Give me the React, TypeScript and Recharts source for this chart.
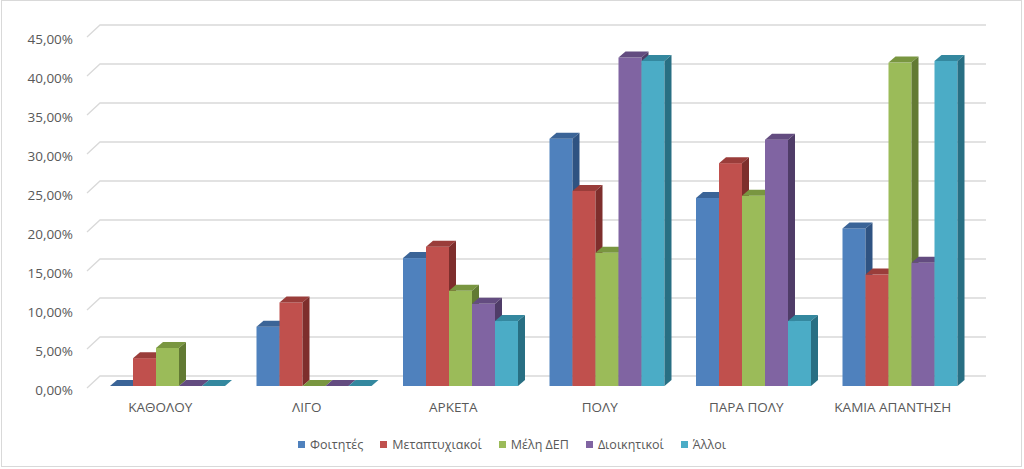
import React from "react";
import { Bar, BarChart, CartesianGrid, Legend, XAxis, YAxis } from "recharts";

const categories = ["ΚΑΘΟΛΟΥ", "ΛΙΓΟ", "ΑΡΚΕΤΑ", "ΠΟΛΥ", "ΠΑΡΑ ΠΟΛΥ", "ΚΑΜΙΑ ΑΠΑΝΤΗΣΗ"];
const students = [0, 7.6, 16.4, 31.7, 24.1, 20.2];
const postgrads = [3.57, 10.71, 17.86, 25.0, 28.57, 14.29];
const faculty = [4.88, 0, 12.2, 17.07, 24.39, 41.46];
const admin = [0, 0, 10.53, 42.11, 31.58, 15.79];
const others = [0, 0, 8.33, 41.67, 8.33, 41.67];
const yTicks = [0, 5, 10, 15, 20, 25, 30, 35, 40, 45];

const series = [
  { key: "students", name: "Φοιτητές", values: students, front: "#4F81BD", top: "#3B6497", side: "#2F5382" },
  { key: "postgrads", name: "Μεταπτυχιακοί", values: postgrads, front: "#C0504D", top: "#9A3D3A", side: "#7E2E2C" },
  { key: "faculty", name: "Μέλη ΔΕΠ", values: faculty, front: "#9BBB59", top: "#799640", side: "#627A33" },
  { key: "admin", name: "Διοικητικοί", values: admin, front: "#8064A2", top: "#634C80", side: "#4F3C68" },
  { key: "others", name: "Άλλοι", values: others, front: "#4BACC6", top: "#34889F", side: "#286F83" },
];

const data = categories.map((cat, i) => {
  const row: Record<string, string | number> = { cat };
  series.forEach((s) => (row[s.key] = s.values[i]));
  return row;
});

const FONT = "'Open Sans', 'Noto Sans', sans-serif";
const TEXT = "#595959";
const GRID = "#D9D9D9";

// depth of the floor/back wall and of each column
const WALL_DX = 13;
const WALL_DY = 12;
const BAR_DX = 6;
const BAR_DY = -2;
const COL_D = 7;
const COL_DY = 6;

function Column(props: any) {
  const { x, y, width, height, front, top, side } = props;
  if (x == null || y == null) return null;
  const x0 = x + BAR_DX;
  const y0 = y + BAR_DY;
  const w = width;
  const h = Math.max(height, 0);
  return (
    <g>
      {h > 0 && <rect x={x0} y={y0} width={w} height={h} fill={front} />}
      <polygon
        points={`${x0},${y0} ${x0 + COL_D},${y0 - COL_DY} ${x0 + w + COL_D},${y0 - COL_DY} ${x0 + w},${y0}`}
        fill={top}
      />
      {h > 0 && (
        <polygon
          points={`${x0 + w},${y0} ${x0 + w + COL_D},${y0 - COL_DY} ${x0 + w + COL_D},${y0 + h - COL_DY} ${x0 + w},${y0 + h}`}
          fill={side}
        />
      )}
    </g>
  );
}

function GridLine(props: any) {
  const { x1, y1, key } = props;
  return (
    <polyline
      key={key}
      points={`${x1},${y1} ${x1 + WALL_DX},${y1 - WALL_DY} 986,${y1 - WALL_DY}`}
      fill="none"
      stroke={GRID}
      strokeWidth={1.3}
    />
  );
}

function LegendRow() {
  return (
    <div
      style={{
        display: "flex",
        justifyContent: "center",
        gap: 17,
        fontFamily: FONT,
        fontSize: 12.5,
        color: TEXT,
      }}
    >
      {series.map((s) => (
        <span key={s.key} style={{ display: "flex", alignItems: "center" }}>
          <span style={{ width: 7, height: 7, background: s.front, marginRight: 5 }} />
          {s.name}
        </span>
      ))}
    </div>
  );
}

const fmt = (v: number) => v.toFixed(2).replace(".", ",") + "%";

export default function App() {
  return (
    <div style={{ position: "absolute", left: 0, top: 0, width: 1024, height: 469, background: "#fff" }}>
      <div
        style={{
          position: "absolute",
          left: 1,
          top: 0,
          width: 1021,
          height: 467,
          border: `1px solid ${GRID}`,
          boxSizing: "border-box",
        }}
      />
      <BarChart
        width={1024}
        height={469}
        data={data}
        margin={{ top: 37, right: 58, bottom: 51, left: 0 }}
        barCategoryGap={17}
        barGap={0}
      >
        <CartesianGrid vertical={false} horizontal={GridLine} />
        <XAxis
          dataKey="cat"
          height={30}
          axisLine={false}
          tickLine={false}
          tickSize={0}
          tickMargin={14}
          interval={0}
          tick={{ fill: TEXT, fontSize: 13.5, fontFamily: FONT }}
        />
        <YAxis
          width={87}
          domain={[0, 45]}
          ticks={yTicks}
          tickFormatter={fmt}
          axisLine={false}
          tickLine={false}
          tickSize={0}
          tickMargin={14}
          tick={{ fill: TEXT, fontSize: 13.5, fontFamily: FONT, dy: 2 }}
        />
        <Legend
          layout="horizontal"
          verticalAlign="middle"
          align="center"
          content={LegendRow}
          wrapperStyle={{ top: 436, left: 0, width: 1024 }}
        />
        {series.map((s) => (
          <Bar
            key={s.key}
            dataKey={s.key}
            name={s.name}
            fill={s.front}
            isAnimationActive={false}
            shape={(p: any) => <Column {...p} front={s.front} top={s.top} side={s.side} />}
          />
        ))}
      </BarChart>
    </div>
  );
}
